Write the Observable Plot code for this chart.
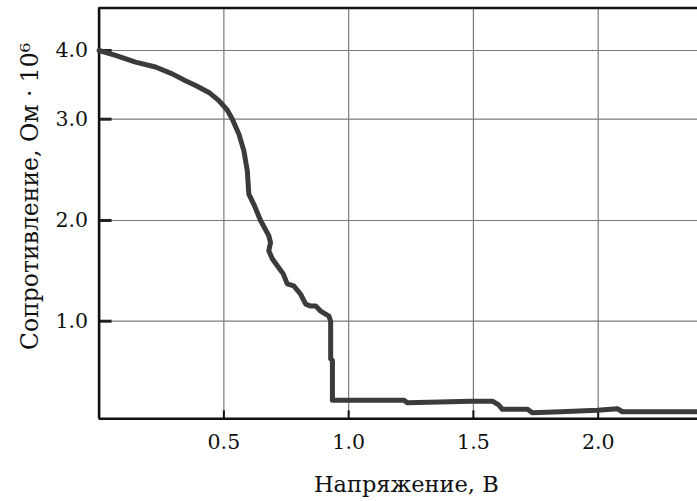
<!DOCTYPE html>
<html>
<head>
<meta charset="utf-8">
<script src="https://cdn.jsdelivr.net/npm/d3@7"></script>
<script src="https://cdn.jsdelivr.net/npm/@observablehq/plot@0.6"></script>
<style>
  html, body { margin: 0; padding: 0; background: #fff; }
</style>
</head>
<body>
<div id="chart"></div>
<script>
// Voltage (V) and resistance (Ohm · 10^6) along the measured curve
const voltage = [
  0, 0.066, 0.146, 0.226, 0.293, 0.346, 0.387, 0.44, 0.48, 0.514, 0.534,
  0.56, 0.58, 0.594, 0.60, 0.62, 0.647, 0.68, 0.687, 0.68, 0.694, 0.72,
  0.738, 0.754, 0.78, 0.807, 0.828, 0.848, 0.868, 0.888, 0.921, 0.928,
  0.928, 0.928, 0.935, 0.935, 1.222, 1.235, 1.49, 1.576, 1.60, 1.616,
  1.717, 1.736, 1.85, 1.997, 2.077, 2.097, 2.4
];
const resistance = [
  4.0, 3.93, 3.83, 3.76, 3.66, 3.56, 3.49, 3.39, 3.27, 3.13, 3.0,
  2.855, 2.69, 2.49, 2.26, 2.16, 2.0, 1.85, 1.78, 1.70, 1.62, 1.53,
  1.47, 1.37, 1.35, 1.27, 1.17, 1.15, 1.15, 1.10, 1.05, 1.0,
  0.87, 0.625, 0.61, 0.215, 0.215, 0.19, 0.205, 0.205, 0.17, 0.125,
  0.125, 0.09, 0.1, 0.115, 0.13, 0.1, 0.1
];

const xTicks = [0.5, 1.0, 1.5, 2.0];
const yTicks = [1.0, 2.0, 3.0, 4.0];

const xTitle = "Напряжение, В";
const yTitle = "Сопротивление, Ом · 10⁶";

const points = voltage.map((v, i) => ({v, r: resistance[i]}));

// The vertical axis is stretched between 3.0 and 4.0 (piecewise scale)
const yDomain = [0.03, 1, 2, 3, 4, 4.62];
const yRange = [418.3, 320.7, 220, 118.7, 50, 7.5];

const font = "'DejaVu Serif', 'Liberation Serif', serif";
const fmt = d3.format(".1f");

const chart = Plot.plot({
  width: 697,
  height: 501,
  marginLeft: 98.6,
  marginRight: 0,
  marginTop: 7.5,
  marginBottom: 82.7,
  style: {fontFamily: font, fontSize: "20px", color: "#111", background: "#fff"},
  x: {domain: [0, 2.398]},
  y: {type: "linear", domain: yDomain, range: yRange},
  marks: [
    Plot.gridX(xTicks, {stroke: "#7a7a7a", strokeOpacity: 1, strokeWidth: 1.2}),
    Plot.gridY(yTicks, {stroke: "#7a7a7a", strokeOpacity: 1, strokeWidth: 1.2}),
    // inward tick marks; labels are drawn as text below
    Plot.axisX(xTicks, {
      tickSize: -8, strokeWidth: 2, stroke: "#111",
      tickFormat: () => "", label: null
    }),
    Plot.axisY(yTicks, {
      tickSize: -13, strokeWidth: 3, stroke: "#222",
      tickFormat: () => "", label: null
    }),
    Plot.text(xTicks, {
      x: (d) => d, text: fmt, frameAnchor: "bottom", dy: 16,
      lineAnchor: "top", fontSize: 20.5, fill: "#111"
    }),
    Plot.text(yTicks, {
      y: (d) => d, text: fmt, frameAnchor: "left", dx: -11,
      textAnchor: "end", lineAnchor: "middle", fontSize: 20.5, fill: "#111"
    }),
    Plot.ruleX([0], {stroke: "#111", strokeWidth: 2.6}),
    Plot.ruleY([yDomain[0]], {stroke: "#111", strokeWidth: 2.6}),
    Plot.ruleY([yDomain[yDomain.length - 1]], {stroke: "#111", strokeWidth: 2.6}),
    Plot.line(points, {
      x: "v", y: "r", stroke: "#3b3b3b", strokeWidth: 5,
      strokeLinejoin: "round", strokeLinecap: "round"
    }),
    Plot.text([xTitle], {
      frameAnchor: "bottom", dx: 8, dy: 73, fontSize: 22.5,
      lineAnchor: "bottom", fill: "#111"
    }),
    Plot.text([yTitle], {
      frameAnchor: "left", dx: -69, dy: -17, rotate: -90, fontSize: 23.5,
      textAnchor: "middle", lineAnchor: "middle", fill: "#111"
    })
  ]
});

document.getElementById("chart").appendChild(chart);
</script>
</body>
</html>
